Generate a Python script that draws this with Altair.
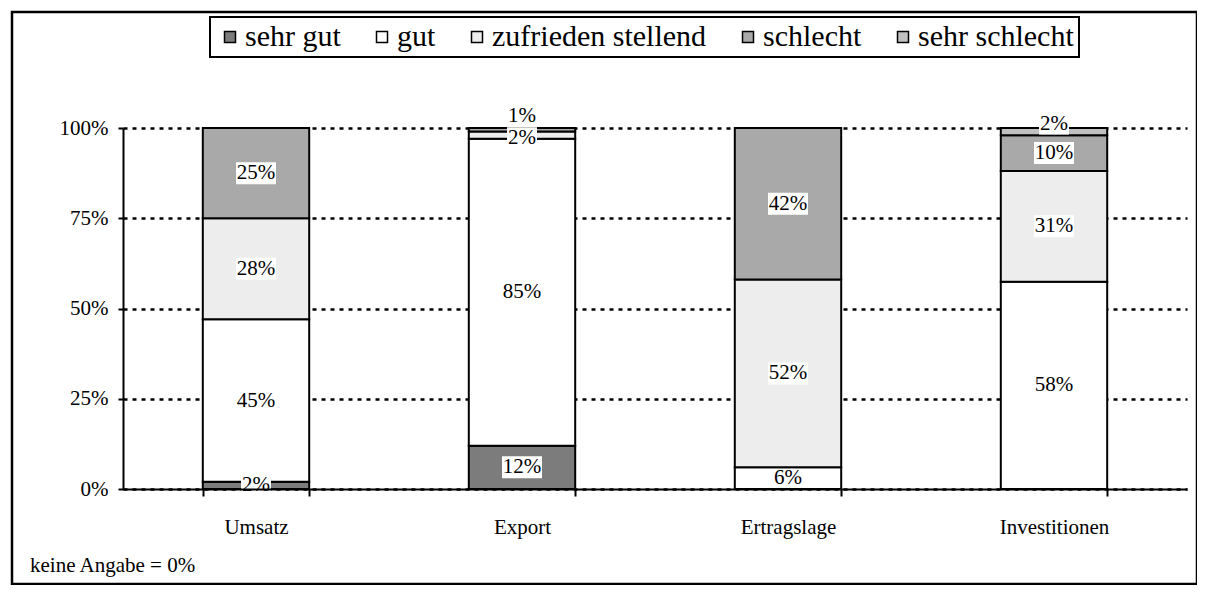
import altair as alt
import pandas as pd

# ---- data ----
categories = ["Umsatz", "Export", "Ertragslage", "Investitionen"]
ratings = ["sehr gut", "gut", "zufrieden stellend", "schlecht", "sehr schlecht"]
sehr_gut = [2, 12, 0, 0]
gut = [45, 85, 6, 58]
zufrieden = [28, 2, 52, 31]
schlecht = [25, 1, 42, 10]
sehr_schlecht = [0, 0, 0, 2]
y_ticks = [0, 0.25, 0.5, 0.75, 1.0]
footnote = "keine Angabe = 0%"

series = [sehr_gut, gut, zufrieden, schlecht, sehr_schlecht]
rows = []
for ri, (r, vals) in enumerate(zip(ratings, series)):
    for c, v in zip(categories, vals):
        if v > 0:
            rows.append({"cat": c, "rating": r, "order": ri, "value": v, "label": f"{v}%"})
df = pd.DataFrame(rows)

FONT = "Liberation Serif"
FS = 21
LFS = 30
fills = ["#7c7c7c", "#ffffff", "#ededed", "#a9a9a9", "#c0c0c0"]

base = alt.Chart(df).transform_stack(
    stack="value", groupby=["cat"], sort=[alt.SortField("order", order="ascending")],
    as_=["y0", "y1"], offset="normalize"
).transform_calculate(
    mid="(datum.y0 + datum.y1) / 2",
    nch="'' + length(datum.label)"
)

x_enc = alt.X("cat:N", sort=categories,
              scale=alt.Scale(paddingInner=0.6, paddingOuter=0.3),
              axis=alt.Axis(title=None, labelAngle=0, labelFont=FONT, labelFontSize=FS,
                            labelColor="black", domainColor="black", domainWidth=2,
                            tickColor="black", tickWidth=2, tickSize=7, tickBand="extent",
                            labelPadding=20, grid=False, zindex=1))
y_enc = alt.Y("y0:Q", scale=alt.Scale(domain=[0, 1], nice=False),
              axis=alt.Axis(title=None, values=y_ticks, format=".0%", labelFont=FONT,
                            labelFontSize=FS, labelColor="black", domainColor="black",
                            domainWidth=2, tickColor="black", tickWidth=2, tickSize=5,
                            labelPadding=10, grid=True, gridColor="black",
                            gridDash=[4, 5], gridWidth=2.5))

bars = base.mark_bar(stroke="black", strokeWidth=2).encode(
    x=x_enc, y=y_enc, y2="y1:Q",
    fill=alt.Fill("rating:N", scale=alt.Scale(domain=ratings, range=fills),
                  legend=alt.Legend(title=None, orient="none", direction="horizontal",
                                    legendX=87, legendY=-111,
                                    symbolType="square", symbolSize=121,
                                    symbolStrokeColor="black", symbolStrokeWidth=1.5,
                                    symbolOpacity=1, labelFont=FONT, labelFontSize=LFS,
                                    labelColor="black", labelOffset=0, columnPadding=26,
                                    labelLimit=600, strokeColor="black", padding=5)),
)

box2 = "M-0.75,-0.55L0.75,-0.55L0.75,0.55L-0.75,0.55Z"
box3 = "M-1,-0.55L1,-0.55L1,0.55L-1,0.55Z"

nudges = {("Export", "schlecht"): -14, ("Investitionen", "sehr schlecht"): -8,
          ("Export", "zufrieden stellend"): 3}


def cond(c, r):
    return f"(datum.cat == '{c}' && datum.rating == '{r}')"


label_layers = []
rest = " || ".join(cond(c, r) for (c, r) in nudges)
groups = [("!(" + rest + ")", 0)] + [(cond(c, r), d) for (c, r), d in nudges.items()]
for expr, dy in groups:
    lb = base.transform_filter(expr)
    boxes = lb.transform_filter("datum.rating != 'gut'").mark_point(
        filled=True, fill="white", opacity=1, strokeWidth=0, size=1600, yOffset=dy
    ).encode(
        x=alt.X("cat:N", sort=categories),
        y=alt.Y("mid:Q"),
        shape=alt.Shape("nch:N", scale=alt.Scale(domain=["2", "3"], range=[box2, box3]),
                        legend=None),
    )
    texts = lb.mark_text(font=FONT, fontSize=FS, color="black", baseline="middle",
                         align="center", yOffset=dy).encode(
        x=alt.X("cat:N", sort=categories),
        y=alt.Y("mid:Q"),
        text="label:N",
    )
    label_layers += [boxes, texts]

one = pd.DataFrame({"t": [footnote]})
frame = alt.Chart(one).mark_rect(fillOpacity=0, stroke="black", strokeWidth=2.5).encode(
    x=alt.value(-111), x2=alt.value(1074), y=alt.value(-116), y2=alt.value(456))
note = alt.Chart(one).mark_text(font=FONT, fontSize=FS, color="black", align="left",
                                baseline="middle").encode(
    x=alt.value(-93), y=alt.value(438), text="t:N")

chart = alt.layer(bars, *label_layers, frame, note).properties(
    width=1064, height=361,
    autosize=alt.AutoSizeParams(type="none"),
    padding={"left": 115, "top": 120, "right": 10, "bottom": 96},
    background="white",
).configure(font=FONT).configure_view(stroke=None).configure_legend(
    strokeWidth=2, labelFont=FONT, labelFontSize=LFS, labelColor="black", labelLimit=600
)

chart.save("out.html", embed_options={"renderer": "svg", "actions": False})
